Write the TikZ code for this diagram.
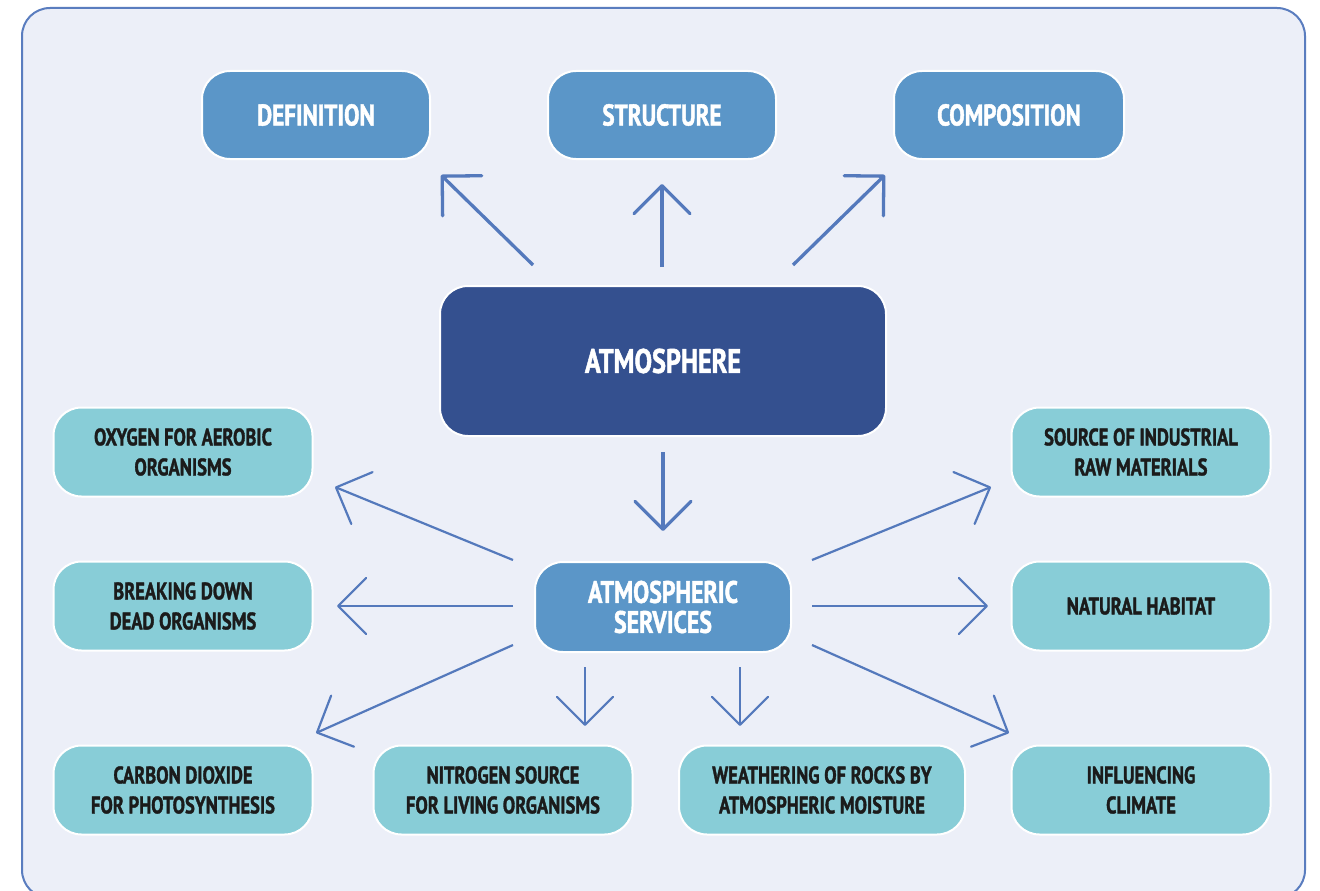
\documentclass[tikz,border=0pt]{standalone}
\usepackage{fontspec}
\newfontfamily\cf[FakeStretch=0.77,FakeBold=1.4]{PT Sans}
\usetikzlibrary{arrows.meta}
\definecolor{framebg}{HTML}{ECEFF8}
\definecolor{framec}{HTML}{5A7DBF}
\definecolor{midblue}{HTML}{5B96C8}
\definecolor{darkblue}{HTML}{34508F}
\definecolor{teal}{HTML}{88CDD7}
\definecolor{arrc}{HTML}{5479BC}
\definecolor{ink}{HTML}{1B1B1B}
\tikzset{
  box/.style={draw=white, line width=2pt, rounded corners=28pt, inner sep=0pt, align=center},
  topbox/.style={box, fill=midblue, text=white, minimum width=228pt, minimum height=88pt,
    font=\cf\bfseries\fontsize{30}{32}\selectfont},
  mainbox/.style={box, fill=darkblue, text=white, minimum width=446pt, minimum height=150pt,
    font=\cf\bfseries\fontsize{34}{36}\selectfont},
  servbox/.style={box, fill=midblue, text=white, minimum width=256pt, minimum height=90pt,
    font=\cf\bfseries\fontsize{31}{30}\selectfont},
  leafbox/.style={box, fill=teal, text=ink, minimum width=259pt, minimum height=89pt,
    font=\cf\bfseries\fontsize{24}{30}\selectfont},
  conn/.style={draw=arrc, line width=2.2pt,
    -{Straight Barb[length=28pt,width=56pt,round]}},
  bigconn/.style={conn, line width=3.3pt},
}
\begin{document}
\begin{tikzpicture}[x=1pt,y=-1pt]
\useasboundingbox (0,0) rectangle (1320,891);
\begin{scope}
\clip (0,0) rectangle (1320,891);
\fill[white] (0,0) rectangle (1320,891);
\draw[framec, line width=2pt, fill=framebg, rounded corners=28pt] (22,8) rectangle (1305,898);
\end{scope}

% top nodes
\node[topbox] (def) at (316,115) {DEFINITION};
\node[topbox] (str) at (662,115) {STRUCTURE};
\node[topbox, minimum width=230pt] (comp) at (1009,115) {COMPOSITION};

\node[mainbox] (atm) at (663,361) {ATMOSPHERE};
\node[servbox] (serv) at (663,607) {ATMOSPHERIC\\SERVICES};

% leaves
\node[leafbox] (oxy) at (183,452) {OXYGEN FOR AEROBIC\\ORGANISMS};
\node[leafbox] (brk) at (183,606) {BREAKING DOWN\\DEAD ORGANISMS};
\node[leafbox] (co2) at (183,790) {CARBON DIOXIDE\\FOR PHOTOSYNTHESIS};
\node[leafbox] (nit) at (503,790) {NITROGEN SOURCE\\FOR LIVING ORGANISMS};
\node[leafbox, minimum width=286pt] (wea) at (822,790) {WEATHERING OF ROCKS BY\\ATMOSPHERIC MOISTURE};
\node[leafbox] (cli) at (1141,790) {INFLUENCING\\CLIMATE};
\node[leafbox] (hab) at (1141,606) {NATURAL HABITAT};
\node[leafbox] (ind) at (1141,452) {SOURCE OF INDUSTRIAL\\RAW MATERIALS};

% arrow end points
\coordinate (u1s) at (533,265); \coordinate (u1e) at (441,175);
\coordinate (u2s) at (662,267); \coordinate (u2e) at (662,184);
\coordinate (u3s) at (793,265); \coordinate (u3e) at (885,175);
\coordinate (d0s) at (663,452); \coordinate (d0e) at (663,531);

\coordinate (l1s) at (513,560); \coordinate (l1e) at (335,487);
\coordinate (l2s) at (513,606); \coordinate (l2e) at (337,606);
\coordinate (l3s) at (513,645); \coordinate (l3e) at (316,733);
\coordinate (r1s) at (812,560); \coordinate (r1e) at (991,487);
\coordinate (r2s) at (812,606); \coordinate (r2e) at (988,606);
\coordinate (r3s) at (812,645); \coordinate (r3e) at (1009,733);
\coordinate (b1s) at (585,667); \coordinate (b1e) at (585,726);
\coordinate (b2s) at (740,667); \coordinate (b2e) at (740,726);

\draw[bigconn] (u1s) -- (u1e);
\draw[bigconn] (u2s) -- (u2e);
\draw[bigconn] (u3s) -- (u3e);
\draw[bigconn] (d0s) -- (d0e);

\draw[conn] (l1s) -- (l1e);
\draw[conn] (l2s) -- (l2e);
\draw[conn] (l3s) -- (l3e);
\draw[conn] (r1s) -- (r1e);
\draw[conn] (r2s) -- (r2e);
\draw[conn] (r3s) -- (r3e);
\draw[conn] (b1s) -- (b1e);
\draw[conn] (b2s) -- (b2e);
\end{tikzpicture}
\end{document}
